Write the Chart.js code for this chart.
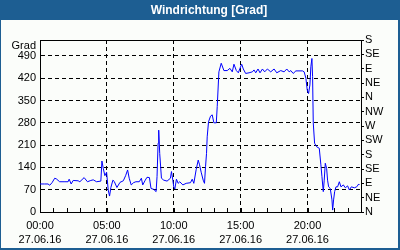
<!DOCTYPE html>
<html>
<head>
<meta charset="utf-8">
<script src="https://cdn.jsdelivr.net/npm/chart.js@4"></script>
<style>
html,body{margin:0;padding:0;background:#fbfdfa;}
canvas{display:block;}
</style>
</head>
<body>
<canvas id="c" width="400" height="250"></canvas>
<script>
// ---- data ----
const chartTitle = 'Windrichtung [Grad]';
const axisUnit = 'Grad';
const dateLabel = '27.06.16';
const hours = [0.0,0.35,0.6,0.73,0.9,1.1,1.22,1.47,1.8,2.1,2.18,2.33,2.48,2.85,2.98,3.3,3.55,3.8,3.98,4.23,4.55,4.63,4.73,4.85,4.98,5.1,5.2,5.3,5.45,5.55,5.75,5.98,6.23,6.4,6.55,6.67,6.82,6.99,7.17,7.42,7.58,7.68,7.87,8.0,8.18,8.3,8.5,8.68,8.75,8.83,8.875,8.95,9.08,9.25,9.5,9.75,9.83,9.93,10.0,10.08,10.2,10.33,10.45,10.68,10.93,11.25,11.38,11.5,11.68,11.83,11.93,12.05,12.2,12.3,12.375,12.45,12.5,12.6,12.75,12.875,13.0,13.18,13.25,13.375,13.55,13.75,14.0,14.2,14.375,14.5,14.68,14.83,14.95,15.08,15.2,15.375,15.63,15.875,16.0,16.13,16.3,16.45,16.63,16.8,17.0,17.25,17.5,17.7,18.0,18.25,18.45,18.63,18.75,18.93,19.13,19.63,19.75,19.88,19.98,20.08,20.18,20.25,20.33,20.38,20.43,20.53,20.68,20.88,21.0,21.08,21.18,21.25,21.33,21.43,21.5,21.58,21.7,21.83,21.88,21.95,22.03,22.13,22.25,22.38,22.5,22.68,22.83,23.0,23.13,23.28,23.5,23.68,23.83,23.88];
const direction = [88,88,88,84,92,106,104,95,95,95,103,88,99,98,95,108,95,99,101,95,97,160,137,114,125,69,50,77,100,96,77,93,98,114,132,106,85,92,95,95,106,85,100,109,108,74,71,64,111,216,257,184,106,100,97,106,127,100,79,72,103,90,95,85,90,92,103,90,134,163,148,125,100,90,142,184,236,283,301,305,280,280,331,440,467,444,444,451,440,464,444,437,451,464,449,435,437,440,446,437,449,437,449,440,449,440,449,437,444,440,449,440,444,435,443,443,440,420,383,372,399,456,482,425,280,216,205,200,148,111,64,100,153,137,100,79,74,38,6,38,64,79,79,95,79,85,76,82,69,79,76,79,88,85];
const leftTicks = [0,70,140,210,280,350,420,490];
const rightTickValues = [0,45,90,135,180,225,270,315,360,405,450,495,540];
const rightTickLabels = ['N','NE','E','SE','S','SW','W','NW','N','NE','E','SE','S'];
const hourTicks = [0,1,2,3,4,5,6,7,8,9,10,11,12,13,14,15,16,17,18,19,20,21,22,23,24];
const labelledHours = [0,5,10,15,20];

const BLUE = '#1d5e92';
const FONT = '"Liberation Sans", Arial, sans-serif';

const framePlugin = {
  id: 'frame',
  beforeDraw(chart) {
    const ctx = chart.ctx, W = chart.width, H = chart.height;
    ctx.save();
    ctx.fillStyle = '#fbfdfa';
    ctx.fillRect(0, 0, W, H);
    ctx.restore();
  },
  afterDraw(chart) {
    const ctx = chart.ctx, W = chart.width, H = chart.height;
    const a = chart.chartArea;
    const xs = chart.scales.x;
    ctx.save();
    ctx.strokeStyle = '#000';
    ctx.lineWidth = 1;
    ctx.beginPath();
    hourTicks.forEach(h => {
      if (h === 0 || h === 24) return;
      const px = Math.round(xs.getPixelForValue(h)) + 0.5;
      ctx.moveTo(px, a.bottom);
      ctx.lineTo(px, a.bottom - 4);
    });
    ctx.moveTo(a.left, Math.round(a.top) + 0.5);
    ctx.lineTo(a.right + 1, Math.round(a.top) + 0.5);
    ctx.stroke();
    ctx.fillStyle = '#000';
    ctx.font = '11px ' + FONT;
    ctx.textAlign = 'right';
    ctx.textBaseline = 'middle';
    ctx.fillText(axisUnit, a.left - 4, a.top + 6);
    ctx.fillStyle = BLUE;
    ctx.fillRect(0, 0, W, 20);
    ctx.fillStyle = '#ffffff';
    ctx.font = 'bold 12px ' + FONT;
    ctx.textAlign = 'center';
    ctx.textBaseline = 'middle';
    ctx.fillText(chartTitle, 209, 10.5);
    ctx.fillStyle = BLUE;
    ctx.fillRect(0, 0, 1, H);
    ctx.fillRect(W - 2, 0, 2, H);
    ctx.fillRect(0, H - 2, W, 2);
    ctx.restore();
  }
};

new Chart(document.getElementById('c'), {
  type: 'line',
  data: {
    datasets: [{
      data: hours.map((h, i) => ({ x: h, y: direction[i] })),
      borderColor: '#0000ff',
      borderWidth: 1,
      pointRadius: 0,
      tension: 0,
      fill: false,
      yAxisID: 'y'
    }]
  },
  options: {
    responsive: false,
    animation: false,
    devicePixelRatio: 1,
    layout: { padding: { top: 40, left: 0, right: 0, bottom: 0 } },
    plugins: { legend: { display: false }, tooltip: { enabled: false } },
    scales: {
      x: {
        type: 'linear',
        min: 0, max: 24,
        afterFit(s) { s.height = 38; },
        afterBuildTicks(s) { s.ticks = hourTicks.map(v => ({ value: v })); },
        ticks: {
          autoSkip: false, maxRotation: 0, padding: 6,
          color: '#000',
          font: { family: FONT, size: 11, lineHeight: 1.36 },
          callback: v => labelledHours.includes(v) ? [String(v).padStart(2, '0') + ':00', dateLabel] : ''
        },
        grid: {
          drawTicks: false,
          color: c => (c.tick && labelledHours.includes(c.tick.value) && c.tick.value > 0) ? '#000' : 'rgba(0,0,0,0)',
          lineWidth: 1
        },
        border: { display: true, color: '#000', width: 1, dash: [4, 3] }
      },
      y: {
        type: 'linear', position: 'left',
        min: 0, max: 540,
        afterFit(s) { s.width = 40; },
        afterBuildTicks(s) { s.ticks = leftTicks.map(v => ({ value: v })); },
        ticks: { autoSkip: false, padding: 4, color: '#000', font: { family: FONT, size: 11 } },
        grid: {
          drawTicks: false,
          color: c => (c.tick && c.tick.value > 0) ? '#000' : 'rgba(0,0,0,0)',
          lineWidth: 1
        },
        border: { display: true, color: '#000', width: 1, dash: [4, 3] }
      },
      y2: {
        type: 'linear', position: 'right',
        min: 0, max: 540,
        afterFit(s) { s.width = 39; },
        afterBuildTicks(s) { s.ticks = rightTickValues.map(v => ({ value: v })); },
        ticks: {
          autoSkip: false, padding: 1, color: '#000', font: { family: FONT, size: 11 },
          callback: (v, i) => rightTickLabels[i]
        },
        grid: { drawOnChartArea: false, drawTicks: true, tickLength: 3, tickColor: '#000', color: '#000' },
        border: { display: true, color: '#000', width: 1 }
      }
    }
  },
  plugins: [framePlugin]
});
</script>
</body>
</html>
